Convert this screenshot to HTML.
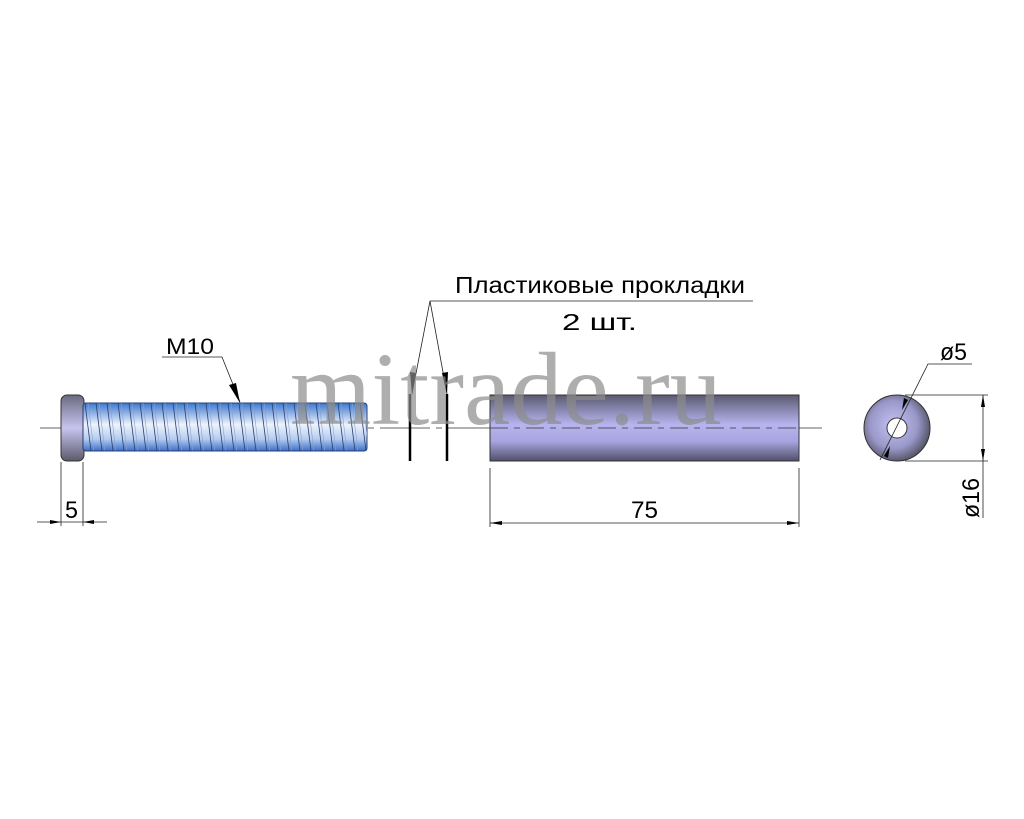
<!DOCTYPE html>
<html><head><meta charset="utf-8"><style>
html,body{margin:0;padding:0;background:#fff;}
svg{display:block;}
.t{font-family:"Liberation Sans","DejaVu Sans",sans-serif;}
</style></head><body>
<svg width="1024" height="819" viewBox="0 0 1024 819" xmlns="http://www.w3.org/2000/svg">
<defs>
<linearGradient id="thr" x1="0" y1="0" x2="0" y2="1">
<stop offset="0" stop-color="#3c78d0"/><stop offset="0.45" stop-color="#eef3fc"/><stop offset="0.75" stop-color="#b4ccf0"/><stop offset="1" stop-color="#3a6fc8"/>
</linearGradient>
<linearGradient id="head" x1="0" y1="0" x2="0" y2="1">
<stop offset="0" stop-color="#6a6a80"/><stop offset="0.5" stop-color="#c8c4f0"/><stop offset="1" stop-color="#5a5a6a"/>
</linearGradient>
<linearGradient id="tube" x1="0" y1="0" x2="0" y2="1">
<stop offset="0" stop-color="#5a5a70"/><stop offset="0.45" stop-color="#b8b4f0"/><stop offset="0.7" stop-color="#a8a4e0"/><stop offset="1" stop-color="#50506a"/>
</linearGradient>
<radialGradient id="disc" cx="0.45" cy="0.45" r="0.6">
<stop offset="0" stop-color="#c4c2f4"/><stop offset="0.6" stop-color="#9a98c8"/><stop offset="1" stop-color="#4a4a5a"/>
</radialGradient>
<pattern id="tp" x="83" y="403" width="11" height="48" patternUnits="userSpaceOnUse">
<line x1="2" y1="0" x2="8" y2="48" stroke="#2a3f70" stroke-width="0.8"/>
<line x1="5" y1="0" x2="11" y2="48" stroke="#8aa0c8" stroke-width="0.6"/>
</pattern>
</defs>
<line x1="40" y1="428" x2="822" y2="428" stroke="#333" stroke-width="0.8" stroke-dasharray="50,6,6,6"/>
<rect x="61" y="395" width="23" height="66" rx="6" fill="url(#head)" stroke="#333" stroke-width="1"/>
<rect x="83" y="403" width="284" height="48" rx="3" fill="url(#thr)" stroke="#2a3f70" stroke-width="1"/>
<rect x="83" y="403" width="284" height="48" fill="url(#tp)"/>
<text class="t" x="166" y="354" font-size="22" textLength="48" lengthAdjust="spacingAndGlyphs">M10</text>
<polyline points="162,357 222,357 240,402" fill="none" stroke="#222" stroke-width="0.8"/>
<polygon points="240,403 229,385 236,383" fill="#000"/>
<line x1="61" y1="462" x2="61" y2="526" stroke="#222" stroke-width="0.8"/>
<line x1="83" y1="462" x2="83" y2="526" stroke="#222" stroke-width="0.8"/>
<line x1="37" y1="522" x2="107" y2="522" stroke="#222" stroke-width="0.8"/>
<polygon points="61,522 50,520 50,524" fill="#000"/>
<polygon points="83,522 94,520 94,524" fill="#000"/>
<text class="t" x="65" y="518" font-size="24" textLength="13" lengthAdjust="spacingAndGlyphs">5</text>
<line x1="410" y1="394" x2="410" y2="461" stroke="#000" stroke-width="2.5"/>
<line x1="447" y1="394" x2="447" y2="461" stroke="#000" stroke-width="2.5"/>
<polyline points="412,394 430,301 447,394" fill="none" stroke="#222" stroke-width="0.8"/>
<polygon points="412,395 410,372 416,373" fill="#000"/>
<polygon points="447,395 442,373 448,372" fill="#000"/>
<line x1="430" y1="301" x2="753" y2="301" stroke="#222" stroke-width="0.8"/>
<text class="t" x="455" y="293" font-size="23" textLength="290" lengthAdjust="spacingAndGlyphs">Пластиковые прокладки</text>
<text class="t" x="562" y="330" font-size="23" textLength="75" lengthAdjust="spacingAndGlyphs">2 шт.</text>
<rect x="490" y="395" width="309" height="66" fill="url(#tube)" stroke="#333" stroke-width="1"/>
<line x1="490" y1="428" x2="799" y2="428" stroke="#333" stroke-width="0.8" stroke-dasharray="18,6,6,6"/>
<line x1="490" y1="468" x2="490" y2="527" stroke="#222" stroke-width="0.8"/>
<line x1="799" y1="468" x2="799" y2="527" stroke="#222" stroke-width="0.8"/>
<line x1="490" y1="523" x2="799" y2="523" stroke="#222" stroke-width="0.8"/>
<polygon points="490,523 502,521 502,525" fill="#000"/>
<polygon points="799,523 787,521 787,525" fill="#000"/>
<text class="t" x="631" y="518" font-size="24" textLength="27" lengthAdjust="spacingAndGlyphs">75</text>
<circle cx="897" cy="428" r="33" fill="url(#disc)" stroke="#333" stroke-width="1"/>
<circle cx="897" cy="428" r="10" fill="#fff" stroke="#333" stroke-width="1"/>
<polyline points="880,460 928,364 972,364" fill="none" stroke="#222" stroke-width="0.8"/>
<polygon points="902,410 908,400 904,398" fill="#000"/>
<polygon points="890,446 884,456 888,458" fill="#000"/>
<text class="t" x="940" y="360" font-size="24" textLength="27" lengthAdjust="spacingAndGlyphs">ø5</text>
<line x1="905" y1="395" x2="988" y2="395" stroke="#222" stroke-width="0.8"/>
<line x1="905" y1="461" x2="988" y2="461" stroke="#222" stroke-width="0.8"/>
<line x1="983" y1="395" x2="983" y2="518" stroke="#222" stroke-width="0.8"/>
<polygon points="983,395 981,407 985,407" fill="#000"/>
<polygon points="983,461 981,449 985,449" fill="#000"/>
<text class="t" transform="translate(979,518) rotate(-90)" font-size="24" textLength="40" lengthAdjust="spacingAndGlyphs">ø16</text>
<text x="290" y="424" style="font-family:'Liberation Serif','DejaVu Serif',serif" font-size="104" fill="#8c8c8c" fill-opacity="0.7" textLength="432" lengthAdjust="spacingAndGlyphs">mitrade.ru</text>
</svg>
</body></html>
